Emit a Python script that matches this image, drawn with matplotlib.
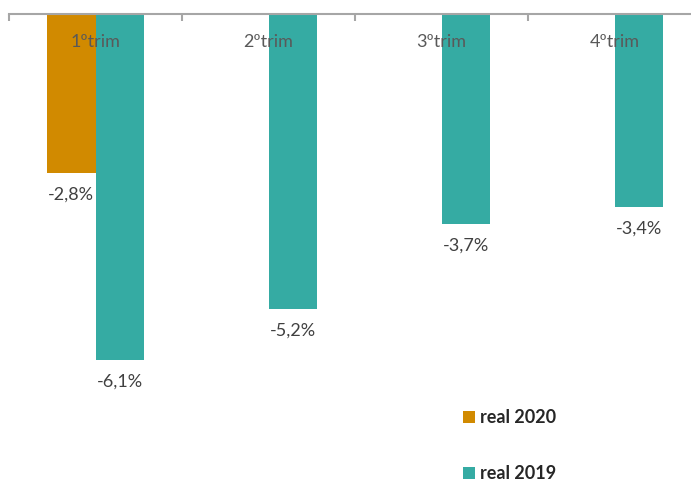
import matplotlib
matplotlib.use("Agg")
import matplotlib.pyplot as plt
from matplotlib.patches import Patch
import numpy as np

categories = ["1ºtrim", "2ºtrim", "3ºtrim", "4ºtrim"]
real_2020 = [-2.8, None, None, None]
real_2019 = [-6.1, -5.2, -3.7, -3.4]
series_names = ["real 2020", "real 2019"]

c2020 = "#D18A00"
c2019 = "#35ABA3"

plt.rcParams["font.family"] = ["Lato", "DejaVu Sans"]

fig = plt.figure(figsize=(6.91, 4.8), dpi=100)
ax = fig.add_axes([9 / 691, 12 / 480, 692 / 691, 454 / 480])

x = np.arange(len(categories))
w = 0.283
off = w / 2

def fmt(v):
    return f"{v:.1f}%".replace(".", ",")

for i, v in enumerate(real_2020):
    if v is None:
        continue
    ax.bar(x[i] - off, v, width=w, color=c2020, zorder=2)
    ax.annotate(fmt(v), xy=(x[i] - off, v), xytext=(0, -10), textcoords="offset points",
                ha="center", va="top", fontsize=13, color="#404040")

for i, v in enumerate(real_2019):
    ax.bar(x[i] + off, v, width=w, color=c2019, zorder=2)
    ax.annotate(fmt(v), xy=(x[i] + off, v), xytext=(0, -10), textcoords="offset points",
                ha="center", va="top", fontsize=13, color="#404040")

for i, name in enumerate(categories):
    ax.annotate(name, xy=(x[i], 0), xytext=(0, -20), textcoords="offset points",
                ha="center", va="center", fontsize=13, color="#595959", zorder=3)

ax.set_xlim(-0.5, 3.5)
ax.set_ylim(-8, 0)
for s in ["left", "right", "bottom"]:
    ax.spines[s].set_visible(False)
ax.spines["top"].set_color("#A6A6A6")
ax.spines["top"].set_linewidth(1.5)
ax.set_yticks([])
ax.xaxis.set_ticks_position("top")
ax.set_xticks(np.arange(-0.5, 4.0, 1.0))
ax.set_xticklabels([])
ax.tick_params(axis="x", direction="in", length=5, width=1.5, color="#A6A6A6")

handles = [Patch(facecolor=c2020), Patch(facecolor=c2019)]
leg = fig.legend(handles, series_names, loc="upper left", bbox_to_anchor=(447 / 691, 1 - 393 / 480),
                 frameon=False, handlelength=0.65, handleheight=0.65, handletextpad=0.3,
                 labelspacing=2.15, prop={"weight": "bold", "size": 13})
for t in leg.get_texts():
    t.set_color("#262626")

fig.savefig("out.png", dpi=100)
